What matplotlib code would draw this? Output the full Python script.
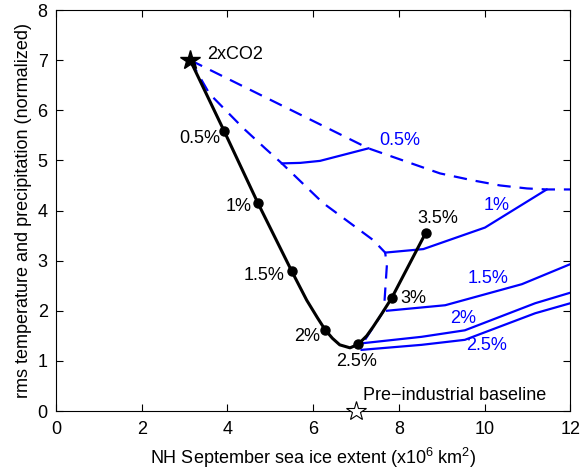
import matplotlib
matplotlib.use("Agg")
import matplotlib.pyplot as plt

plt.rcParams["font.family"] = ["Liberation Sans", "DejaVu Sans"]
plt.rcParams["mathtext.fontset"] = "custom"
plt.rcParams["mathtext.rm"] = "Liberation Sans"
plt.rcParams["mathtext.default"] = "regular"

BLUE = "#0000ff"
FS = 13

# 2xCO2 start and the geoengineering path (ice extent, normalized rms)
co2_x, co2_y = 3.13, 7.0
base_x, base_y = 7.0, 0.0

pct_labels = ["0.5%", "1%", "1.5%", "2%", "2.5%", "3%", "3.5%"]
pct_x = [3.92, 4.71, 5.50, 6.28, 7.05, 7.83, 8.63]
pct_y = [5.59, 4.15, 2.79, 1.62, 1.33, 2.25, 3.56]

# black path
path_x = [3.13, 3.92, 4.71, 5.50, 5.85, 6.10, 6.28, 6.45, 6.62, 6.86, 7.05, 7.25, 7.40, 7.60, 7.83, 8.63]
path_y = [7.00, 5.59, 4.15, 2.79, 2.21, 1.86, 1.62, 1.45, 1.32, 1.26, 1.33, 1.50, 1.68, 1.94, 2.25, 3.56]

# blue dashed envelopes
dash_up_x = [3.13, 7.29, 8.96, 9.73, 10.36, 10.99, 11.45, 12.0]
dash_up_y = [7.00, 5.24, 4.74, 4.60, 4.50, 4.44, 4.42, 4.42]
dash_lo_x = [3.13, 3.58, 4.36, 4.88, 5.27, 6.23, 7.40, 7.68, 7.72, 7.65, 7.21]
dash_lo_y = [7.00, 6.33, 5.65, 5.24, 4.94, 4.15, 3.41, 3.16, 2.91, 2.00, 1.42]

# blue solid trajectories
blue_lines = {
    "0.5%": ([5.27, 5.70, 6.16, 7.29], [4.94, 4.95, 4.99, 5.24]),
    "1%":   ([7.68, 8.57, 10.01, 11.45], [3.16, 3.23, 3.66, 4.42]),
    "1.5%": ([7.72, 9.08, 10.87, 12.0], [2.00, 2.11, 2.53, 2.93]),
    "2%":   ([7.13, 8.53, 9.54, 11.18, 12.0], [1.35, 1.48, 1.61, 2.15, 2.36]),
    "2.5%": ([7.13, 8.53, 9.54, 11.18, 12.0], [1.22, 1.32, 1.42, 1.95, 2.15]),
}
blue_label_pos = {
    "0.5%": (8.03, 5.39),
    "1%":   (10.27, 4.09),
    "1.5%": (10.08, 2.65),
    "2%":   (9.50, 1.84),
    "2.5%": (10.05, 1.30),
}

fig = plt.figure(figsize=(5.81, 4.74), dpi=100)
ax = fig.add_axes([0.0964, 0.1329, 0.8852, 0.846])

ax.plot(dash_up_x, dash_up_y, color=BLUE, lw=1.6, dashes=(6, 4))
ax.plot(dash_lo_x, dash_lo_y, color=BLUE, lw=1.6, dashes=(6, 4))
for name, (xs, ys) in blue_lines.items():
    ax.plot(xs, ys, color=BLUE, lw=1.6)
    lx, ly = blue_label_pos[name]
    ax.text(lx, ly, name, color=BLUE, fontsize=FS, ha="center", va="center")

ax.plot(path_x, path_y, color="black", lw=2.2, zorder=4)
ax.plot(pct_x, pct_y, "o", color="black", ms=6.5, zorder=5)
ax.plot([co2_x], [co2_y], "*", color="black", ms=15, zorder=6, clip_on=False)
ax.plot([base_x], [base_y], "*", mfc="white", mec="black", mew=0.8, ms=15,
        zorder=6, clip_on=False)

ax.text(3.52, 7.12, "2xCO2", fontsize=FS, ha="left", va="center")
ax.text(7.16, 0.31, "Pre\u2212industrial baseline", fontsize=FS, ha="left", va="center")

# black percentage labels
lab_pos = [(3.83, 5.43, "right"), (4.57, 4.07, "right"), (5.34, 2.71, "right"),
           (6.16, 1.48, "right"), (7.02, 0.98, "center"), (8.03, 2.25, "left"),
           (8.90, 3.84, "center")]
for lab, (lx, ly, ha) in zip(pct_labels, lab_pos):
    ax.text(lx, ly, lab, fontsize=FS, ha=ha, va="center")

ax.set_xlim(0, 12)
ax.set_ylim(0, 8)
ax.set_xticks(range(0, 13, 2))
ax.set_yticks(range(0, 9))
ax.tick_params(direction="in", top=True, right=True, labelsize=FS, length=5)
ax.tick_params(axis="x", pad=7)
ax.tick_params(axis="y", pad=6)
ax.set_xlabel(r"NH September sea ice extent (x10$^6$ km$^2$)", fontsize=FS, labelpad=6)
ax.set_ylabel("rms temperature and precipitation (normalized)", fontsize=FS)

fig.savefig("out.png", dpi=100)
